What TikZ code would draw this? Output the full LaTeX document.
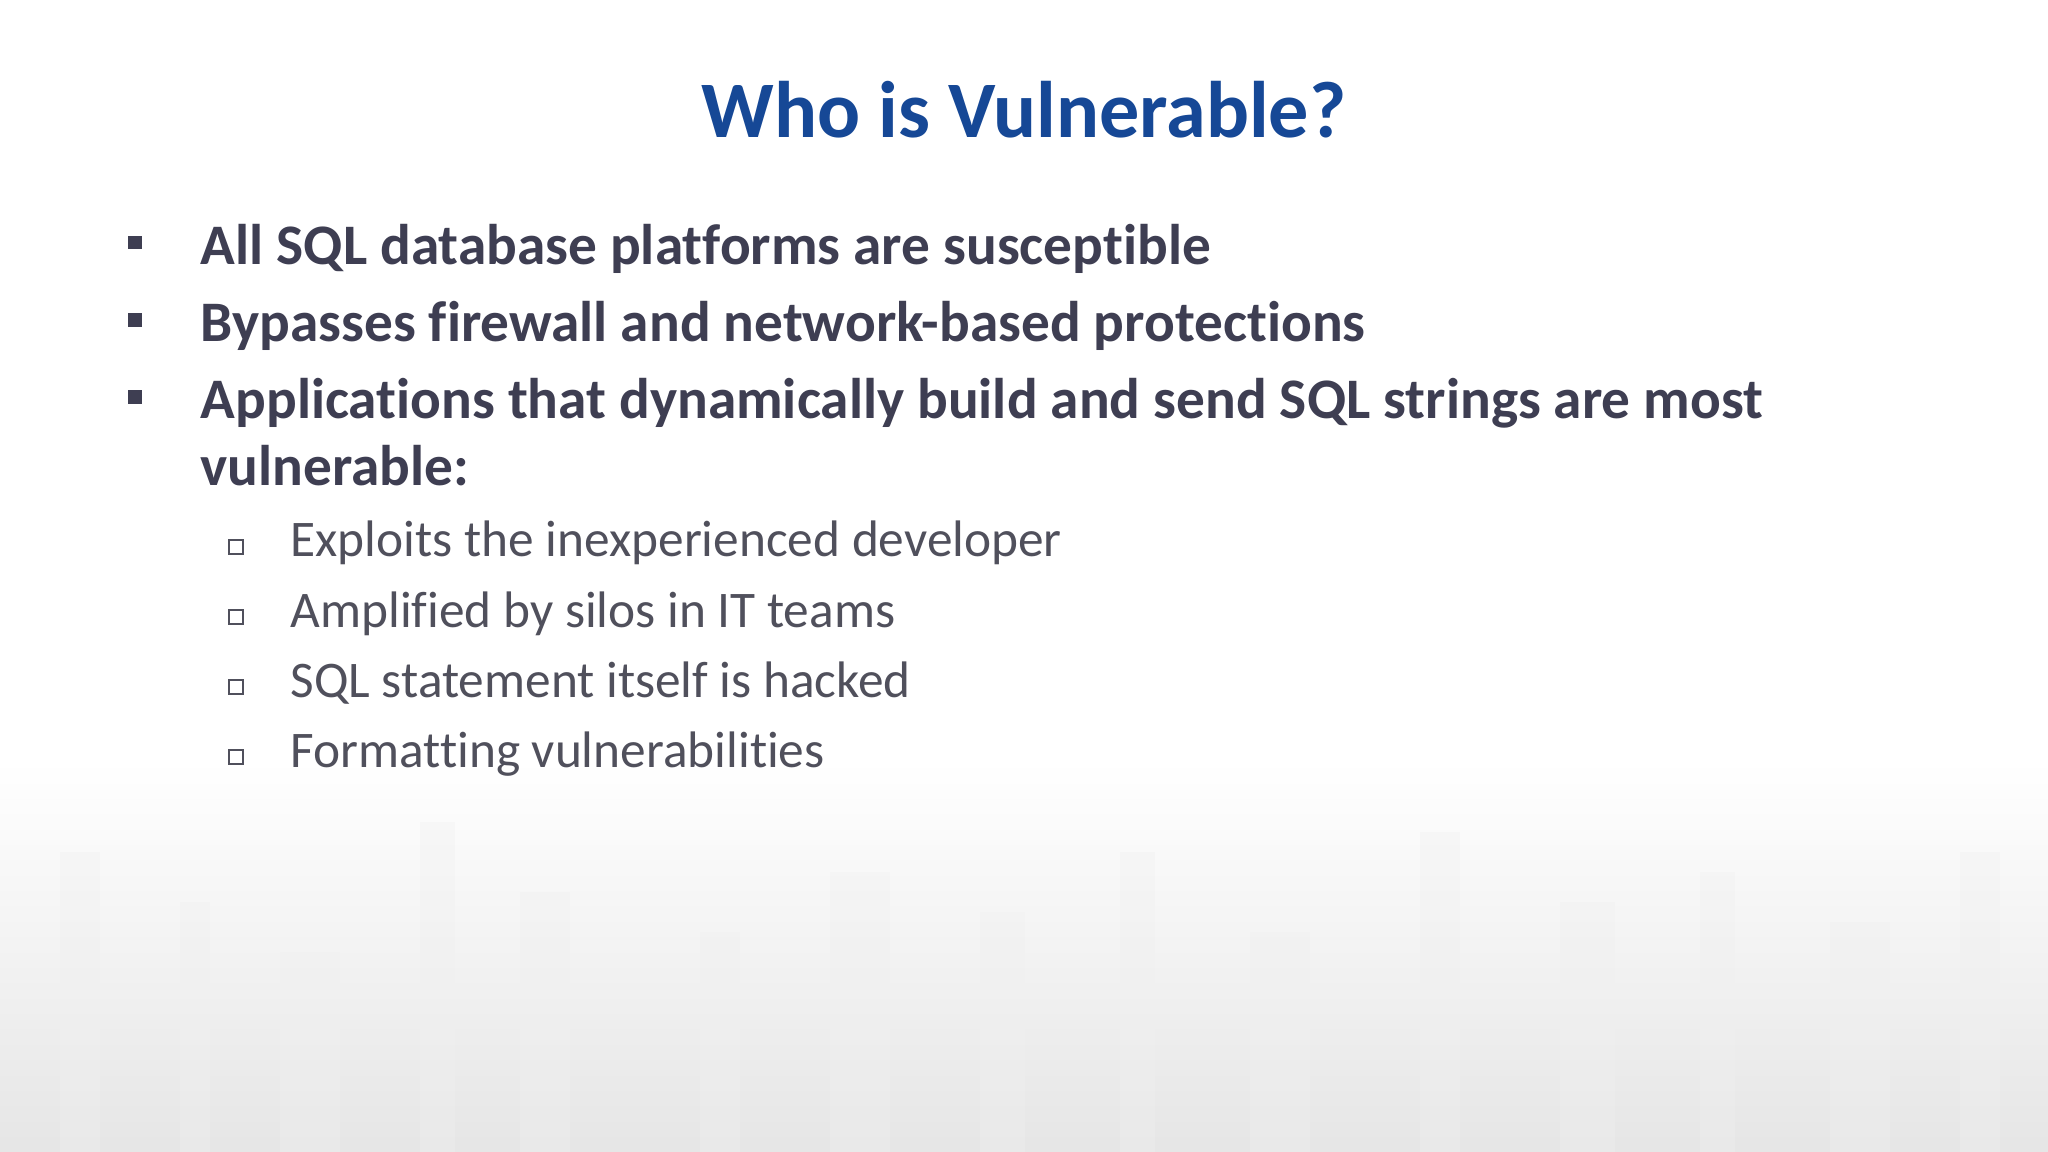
\documentclass[tikz,border=0pt]{standalone}
\usepackage{fontspec}
\setmainfont{Carlito}[RawFeature=-liga]
\definecolor{titleblue}{RGB}{22,72,150}
\definecolor{bodytxt}{RGB}{62,62,82}
\definecolor{subtxt}{RGB}{80,80,92}
\tikzset{
  main/.style={anchor=base west,inner sep=0pt,font=\fontsize{16.3}{20}\selectfont\bfseries,text=bodytxt},
  sub/.style={anchor=base west,inner sep=0pt,font=\fontsize{14.6}{18}\selectfont,text=subtxt},
  fbul/.style={fill=bodytxt,minimum size=0.13cm,inner sep=0pt},
  hbul/.style={draw=subtxt,line width=0.7pt,minimum size=0.14cm,inner sep=0pt}
}
\begin{document}
\begin{tikzpicture}[x=0.01cm,y=-0.01cm]
\useasboundingbox (0,0) rectangle (2048,1152);
\fill[white] (0,0) rectangle (2048,1152);
\shade[top color=white,bottom color=black!10] (0,760) rectangle (2048,1152);
\foreach \x/\w/\h in {60/40/300,180/30/250,280/60/200,420/35/330,520/50/260,700/40/220,830/60/280,980/45/240,1120/35/300,1250/60/220,1420/40/320,1560/55/250,1700/35/280,1830/60/230,1960/40/300}{
  \fill[black!6,opacity=0.35] (\x,1152) rectangle ++(\w,-\h);
}
\node[anchor=base,inner sep=0pt,font=\fontsize{22.8}{28}\selectfont\bfseries,text=titleblue] (title) at (1024,138) {Who is Vulnerable?};
\node[fbul] (b1) at (135,243) {};
\node[main] (t1) at (200,265) {All SQL database platforms are susceptible};
\node[fbul] (b2) at (135,320) {};
\node[main] (t2) at (200,342) {Bypasses firewall and network-based protections};
\node[fbul] (b3) at (135,397) {};
\node[main] (t3) at (200,419) {Applications that dynamically build and send SQL strings are most};
\node[main] (t3b) at (200,486) {vulnerable:};
\node[hbul] (s1) at (236,547) {};
\node[sub] (u1) at (290,557) {Exploits the inexperienced developer};
\node[hbul] (s2) at (236,617) {};
\node[sub] (u2) at (290,627) {Amplified by silos in IT teams};
\node[hbul] (s3) at (236,687) {};
\node[sub] (u3) at (290,697) {SQL statement itself is hacked};
\node[hbul] (s4) at (236,757) {};
\node[sub] (u4) at (290,767) {Formatting vulnerabilities};
\end{tikzpicture}
\end{document}
